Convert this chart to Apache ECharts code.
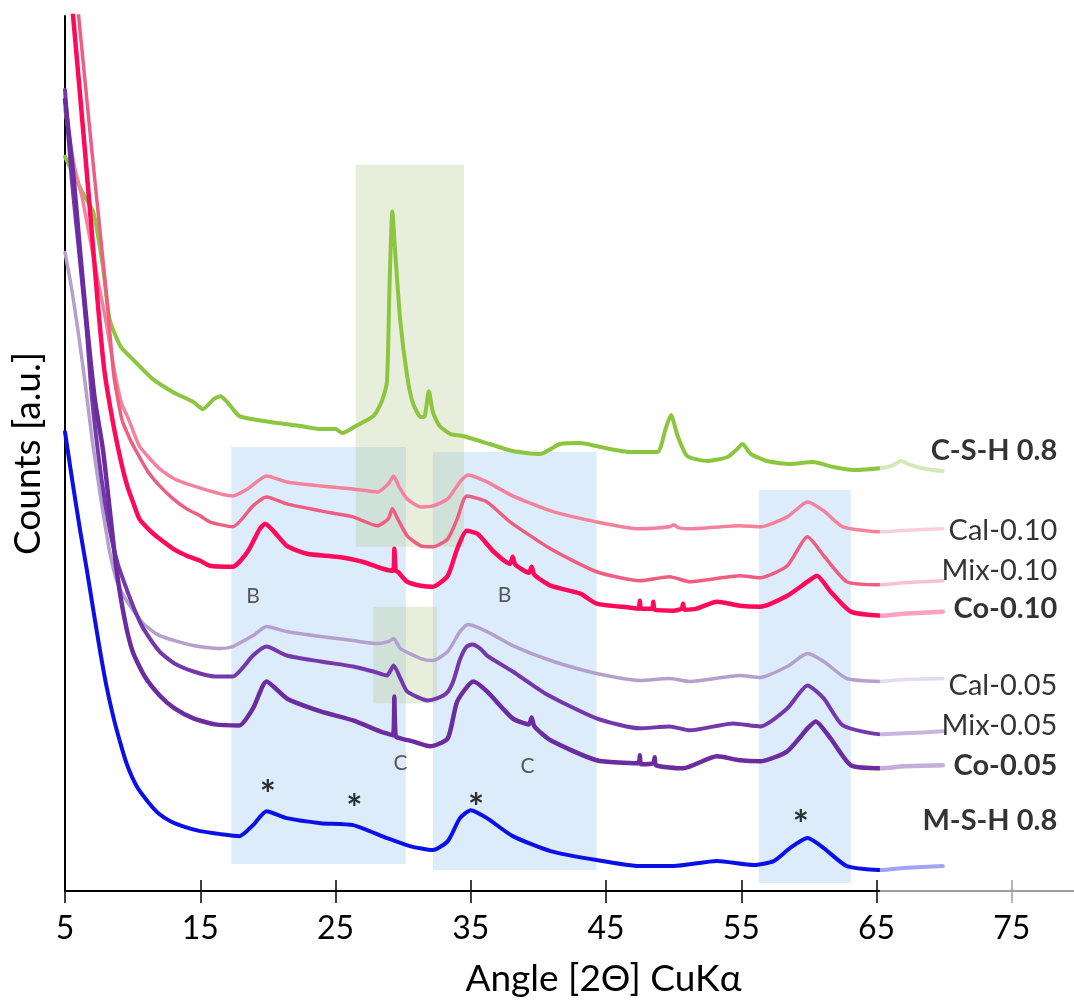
<!DOCTYPE html>
<html>
<head>
<meta charset="utf-8">
<script src="https://cdn.jsdelivr.net/npm/echarts@6/dist/echarts.min.js"></script>
<style>
  html, body { margin: 0; padding: 0; background: #ffffff; }
  #chart { width: 1074px; height: 1003px; }
</style>
</head>
<body>
<div id="chart"></div>
<script>
// ---- XRD patterns, [2θ, counts (a.u., stacked offsets)] ----
const xTicks = [5, 15, 25, 35, 45, 55, 65, 75];

const cshData = [[5.0,736],[5.5,722],[6.3,700],[7.1,680],[7.8,626],[8.3,573],[9.1,546],[10.0,533],[11.5,513],[13.0,500],[14.5,490],[15.2,483],[16.0,493],[16.5,496],[17.0,490],[17.9,476],[20.2,470],[22.4,466],[23.9,463],[25.0,463],[25.5,459],[26.5,466],[27.8,476],[28.4,490],[28.8,510],[29.0,610],[29.2,681],[29.4,643],[29.8,570],[30.3,516],[30.7,490],[31.3,475],[31.6,476],[31.9,501],[32.2,480],[32.7,466],[33.5,458],[34.4,456],[36.4,448],[38.1,441],[40.1,438],[41.6,448],[43.1,449],[44.6,445],[46.8,440],[48.8,440],[49.4,463],[49.8,477],[50.3,456],[51.0,436],[52.5,431],[54.0,435],[54.7,443],[55.1,448],[55.7,438],[56.9,431],[58.6,428],[60.3,430],[61.8,425],[63.3,422],[65.4,424],[66.1,426],[66.8,431],[67.5,427],[68.6,423],[69.9,421]];

const cal010Data = [[5.0,783],[5.7,726],[6.3,693],[7.2,628],[8.0,573],[8.7,518],[9.2,488],[9.7,473],[10.5,446],[11.3,433],[12.0,423],[13.1,413],[14.5,406],[16.5,398],[17.4,396],[18.5,403],[19.9,416],[21.4,410],[23.9,406],[26.3,403],[28.1,400],[28.9,408],[29.3,416],[29.7,405],[30.3,393],[31.3,385],[32.2,386],[33.3,393],[34.2,410],[34.8,417],[36.2,410],[38.1,396],[40.9,381],[44.3,370],[47.5,363],[49.7,365],[50.0,367],[50.4,364],[51.2,363],[54.9,366],[56.4,365],[58.4,375],[59.9,390],[61.1,381],[62.5,365],[65.4,360],[66.5,361],[68.0,362],[69.9,363]];

const mix010Data = [[5.5,939],[6.0,878],[7.0,740],[8.1,593],[8.6,518],[9.2,473],[9.8,453],[10.3,440],[11.1,421],[12.0,406],[13.0,393],[14.0,383],[15.0,376],[15.7,370],[17.4,365],[18.9,386],[19.9,395],[21.4,388],[23.9,381],[26.3,375],[28.1,366],[28.9,373],[29.2,383],[29.6,373],[30.3,356],[31.3,346],[32.2,345],[33.3,353],[34.0,373],[34.7,396],[36.2,390],[37.9,370],[40.9,343],[44.3,320],[47.5,311],[49.7,315],[51.2,310],[54.9,316],[56.4,314],[58.4,326],[59.9,355],[61.1,336],[62.8,310],[65.4,307],[67.0,309],[69.9,311]];

const co010Data = [[5.5,892],[6.5,738],[7.4,593],[7.9,523],[8.5,473],[9.1,433],[9.6,406],[10.1,387],[10.5,373],[11.3,361],[12.0,353],[13.0,343],[14.0,336],[15.0,331],[15.7,326],[17.4,325],[18.5,340],[19.4,363],[19.8,368],[20.4,361],[21.4,346],[22.9,338],[25.1,335],[27.0,330],[28.5,323],[29.25,321],[29.35,343],[29.45,321],[29.6,320],[30.3,310],[31.3,306],[32.2,305],[33.3,316],[34.0,343],[34.7,361],[35.5,358],[36.7,340],[37.9,328],[38.1,335],[38.3,327],[39.3,319],[39.5,325],[39.7,317],[40.9,306],[43.1,298],[44.3,288],[46.8,284],[47.4,283],[47.5,291],[47.6,283],[48.4,283],[48.5,290],[48.6,282],[50.0,281],[50.6,283],[50.7,288],[50.8,282],[51.7,283],[53.2,290],[54.9,286],[56.4,285],[58.4,296],[59.9,310],[60.6,316],[61.6,300],[63.1,280],[65.4,276],[67.0,278],[69.9,280]];

const cal005Data = [[5.0,640],[5.5,603],[6.0,558],[6.5,508],[7.0,453],[7.6,398],[8.3,340],[8.9,308],[9.6,290],[10.8,268],[12.0,256],[14.5,246],[16.5,243],[17.4,245],[18.9,256],[19.9,265],[21.4,260],[23.9,255],[26.3,251],[28.1,248],[28.9,250],[29.3,253],[29.8,243],[31.3,233],[32.2,231],[33.3,240],[34.2,260],[34.8,267],[36.2,260],[38.1,246],[40.9,231],[44.3,218],[47.5,211],[49.7,213],[51.2,210],[54.9,216],[56.4,214],[58.4,225],[59.9,238],[61.1,230],[62.8,213],[65.4,210],[67.0,212],[69.9,213]];

const mix005Data = [[5.0,803],[5.5,713],[6.1,633],[6.6,563],[7.0,493],[7.7,413],[8.3,363],[8.9,328],[9.6,301],[10.2,280],[10.8,263],[12.0,240],[13.1,228],[14.5,220],[16.1,215],[17.4,215],[18.9,236],[19.9,245],[21.4,236],[23.9,230],[26.3,225],[27.8,220],[28.8,216],[29.3,226],[29.8,213],[30.3,200],[31.8,191],[32.5,193],[33.2,198],[33.7,210],[34.2,232],[34.7,245],[35.1,247],[35.7,243],[36.2,236],[38.1,220],[40.5,198],[44.3,173],[47.5,163],[49.7,165],[51.2,161],[54.4,168],[56.4,165],[58.4,183],[59.9,206],[61.1,193],[62.5,166],[65.4,157],[67.0,158],[69.9,160]];

const co005Data = [[5.0,793],[5.6,720],[6.1,643],[6.6,570],[7.2,493],[7.8,443],[8.3,383],[8.8,323],[9.4,273],[10.0,240],[10.9,215],[12.0,196],[13.1,183],[14.5,173],[16.1,167],[17.9,166],[18.9,183],[19.9,210],[21.4,193],[23.9,180],[26.3,171],[28.3,160],[29.25,156],[29.35,195],[29.45,155],[29.8,153],[30.7,150],[32.0,145],[33.3,153],[34.0,190],[35.2,210],[36.2,200],[38.1,173],[39.3,167],[39.5,174],[39.7,165],[40.9,151],[44.3,131],[47.4,128],[47.5,136],[47.6,127],[48.5,128],[48.6,134],[48.7,126],[50.7,123],[53.2,135],[54.9,131],[56.4,130],[58.4,140],[59.9,163],[60.5,170],[61.6,153],[63.1,126],[65.4,123],[67.0,125],[69.9,126]];

const mshData = [[5.0,460],[5.3,433],[5.6,406],[6.1,363],[6.6,323],[7.1,281],[7.6,240],[8.1,203],[8.6,173],[9.1,148],[9.6,126],[10.3,105],[11.1,90],[11.9,78],[12.8,70],[13.9,64],[15.0,60],[16.5,57],[17.9,55],[18.9,66],[19.9,80],[21.4,73],[23.9,68],[26.3,66],[28.8,53],[30.5,45],[32.2,41],[33.3,50],[34.2,73],[35.0,81],[36.2,73],[38.1,55],[40.9,40],[44.3,31],[47.5,25],[50.0,25],[53.2,30],[55.9,26],[57.4,30],[58.6,43],[59.9,53],[61.1,43],[62.8,25],[65.4,21],[67.0,23],[69.9,25]];

// sample names, right-hand labels and their heights
const sampleNames = ['C-S-H 0.8', 'Cal-0.10', 'Mix-0.10', 'Co-0.10', 'Cal-0.05', 'Mix-0.05', 'Co-0.05', 'M-S-H 0.8'];
const sampleLabelY = [441, 361, 321, 283, 206, 166, 126, 71];
const boldNames = ['C-S-H 0.8', 'Co-0.10', 'Co-0.05', 'M-S-H 0.8'];

// phase markers: text and [2θ, height]
const markerTexts = ['*', '*', '*', '*', 'B', 'B', 'C', 'C'];
const markerPos = [[20.0, 95], [26.4, 81], [35.4, 82], [59.4, 65], [18.9, 295], [37.5, 296], [29.8, 128], [39.2, 125]];

// highlighted 2θ windows: [x0, x1, y0, y1]
const blueBands = [[17.3, 30.2, 27, 445], [32.2, 44.3, 21, 440], [56.3, 63.1, 8, 402]];
const greenBands = [[26.5, 34.5, 345, 728], [27.8, 32.5, 188, 285]];

const FONT = 'Lato, "Noto Sans", "DejaVu Sans", sans-serif';

const curves = [
  { name: 'C-S-H 0.8', data: cshData,    color: '#8CC63F', width: 4 },
  { name: 'Cal-0.10',  data: cal010Data, color: '#F4829C', width: 3.5 },
  { name: 'Mix-0.10',  data: mix010Data, color: '#EE5E80', width: 3.5 },
  { name: 'Co-0.10',   data: co010Data,  color: '#FF0A5A', width: 4.5 },
  { name: 'Cal-0.05',  data: cal005Data, color: '#B4A0CC', width: 3.5 },
  { name: 'Mix-0.05',  data: mix005Data, color: '#7438AA', width: 4 },
  { name: 'Co-0.05',   data: co005Data,  color: '#6A2C9E', width: 4.5 },
  { name: 'M-S-H 0.8', data: mshData,    color: '#0A10E6', width: 4 }
];

const lineSeries = curves.map(c => ({
  name: c.name,
  type: 'line',
  data: c.data,
  symbol: 'none',
  showSymbol: false,
  smooth: 0.2,
  clip: true,
  z: 2,
  lineStyle: { color: c.color, width: c.width, join: 'round', cap: 'round' },
  emphasis: { disabled: true }
}));

const bandSeries = {
  name: 'bands',
  type: 'scatter',
  data: [],
  z: 5,
  silent: true,
  markArea: {
    silent: true,
    data: [
      ...blueBands.map(b => [
        { xAxis: b[0], yAxis: b[2], itemStyle: { color: 'rgba(120,180,240,0.25)' } },
        { xAxis: b[1], yAxis: b[3] }
      ]),
      ...greenBands.map(b => [
        { xAxis: b[0], yAxis: b[2], itemStyle: { color: 'rgba(181,200,143,0.31)' } },
        { xAxis: b[1], yAxis: b[3] }
      ])
    ]
  }
};

const markerSeries = {
  name: 'markers',
  type: 'scatter',
  z: 20,
  silent: true,
  symbolSize: 1,
  itemStyle: { color: 'transparent' },
  data: markerTexts.map((t, i) => ({ name: t, value: markerPos[i] })),
  label: {
    show: true,
    position: 'inside',
    formatter: p => p.name,
    fontFamily: FONT,
    color: '#333333',
    fontSize: 21
  },
  labelLayout: { hideOverlap: false }
};
markerSeries.data.forEach(d => {
  if (d.name === '*') d.label = { fontSize: 38, fontWeight: 'bold', color: '#000' };
});

const nameSeries = {
  name: 'sample labels',
  type: 'scatter',
  z: 20,
  silent: true,
  symbolSize: 1,
  itemStyle: { color: 'transparent' },
  data: sampleNames.map((n, i) => ({
    name: n,
    value: [78.4, sampleLabelY[i]],
    label: { fontWeight: boldNames.includes(n) ? 'bold' : 'normal' }
  })),
  label: {
    show: true,
    position: 'left',
    distance: 0,
    formatter: p => p.name,
    fontFamily: FONT,
    fontSize: 29,
    color: '#000'
  }
};

const option = {
  animation: false,
  backgroundColor: '#ffffff',
  grid: { left: 65, right: 0, top: 16, bottom: 110, containLabel: false },
  xAxis: [
    {
      type: 'value', min: 5, max: 79.6,
      axisLine: { show: true, onZero: false, lineStyle: { color: '#000', width: 2 } },
      axisTick: { show: true, length: 12, customValues: xTicks, lineStyle: { color: '#000', width: 1.5 } },
      axisLabel: { customValues: xTicks, fontFamily: FONT, fontSize: 32, color: '#000', margin: 22 },
      splitLine: { show: false },
      name: 'Angle [2Θ] CuKα',
      nameLocation: 'middle',
      nameGap: 70,
      nameTextStyle: { fontFamily: FONT, fontSize: 37, color: '#000', padding: [0, 0, 0, 68] }
    },
    {
      type: 'value', min: 5, max: 79.6, position: 'bottom',
      axisLine: { show: false },
      axisTick: { show: true, inside: true, length: 11, customValues: xTicks, lineStyle: { color: '#000', width: 1.5 } },
      axisLabel: { show: false },
      splitLine: { show: false }
    }
  ],
  yAxis: {
    type: 'value', min: 0, max: 877,
    axisLine: { show: true, onZero: false, lineStyle: { color: '#000', width: 2 } },
    axisTick: { show: false },
    axisLabel: { show: false },
    splitLine: { show: false },
    name: 'Counts [a.u.]',
    nameLocation: 'middle',
    nameGap: 18,
    nameTextStyle: { fontFamily: FONT, fontSize: 37, color: '#000' }
  },
  series: [...lineSeries, bandSeries, markerSeries, nameSeries]
};

const chart = echarts.init(document.getElementById('chart'), null, { renderer: 'canvas' });
chart.setOption(option);

// lighten everything past the measured range (traces, axis line and tick)
const fadeX = chart.convertToPixel({ xAxisIndex: 0 }, 65.25);
const axisY = chart.convertToPixel({ yAxisIndex: 0 }, 0);
chart.setOption({
  graphic: [{
    type: 'rect',
    z: 6,
    silent: true,
    shape: { x: fadeX, y: 0, width: 1074 - fadeX, height: axisY + 14 },
    style: { fill: 'rgba(255,255,255,0.62)' }
  }]
});
</script>
</body>
</html>
